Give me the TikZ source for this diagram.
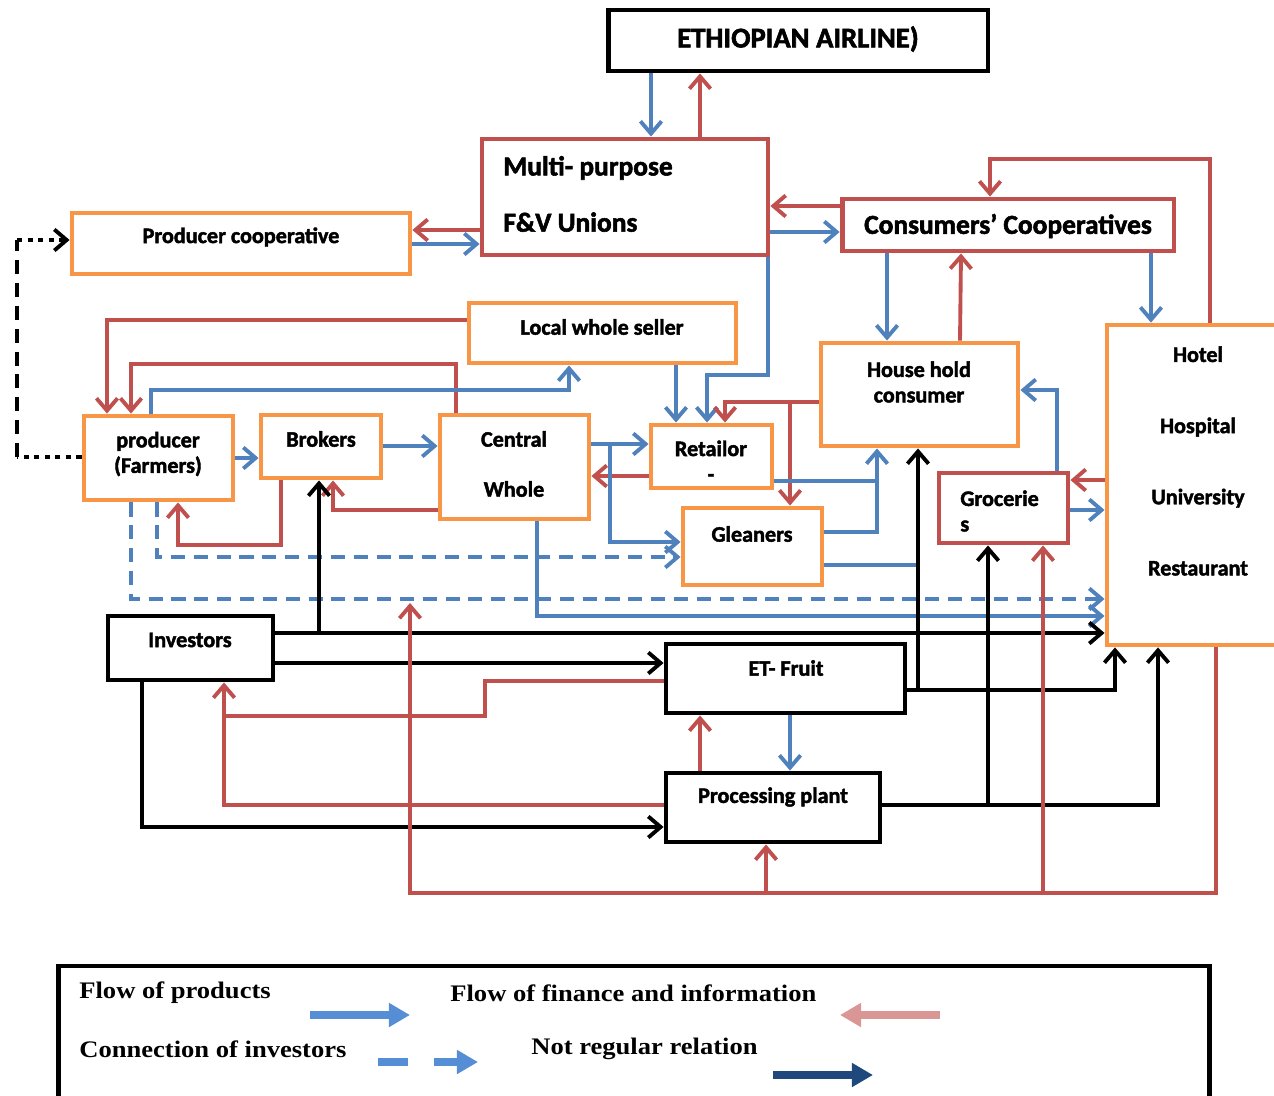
\documentclass[tikz,border=0pt]{standalone}
\usepackage{fontspec}
\setmainfont{Carlito}
\newfontfamily\heavyfont[BoldFeatures={FakeBold=2}]{Carlito}
\newfontfamily\legfont[BoldFeatures={FakeStretch=1.12}]{Liberation Serif}
\usetikzlibrary{arrows.meta,positioning}

\definecolor{prodblue}{HTML}{4F81BD}
\definecolor{finred}{HTML}{C0504D}
\definecolor{actorange}{HTML}{F79646}
\definecolor{legblue}{HTML}{558ED5}
\definecolor{legpink}{HTML}{D99694}
\definecolor{legnavy}{HTML}{1F497D}

\begin{document}
\begin{tikzpicture}[x=0.02cm, y=-0.02cm, >={Straight Barb[length=7pt,width=12pt]},
  actor/.style={draw=actorange, line width=2.8pt},
  coop/.style={draw=finred, line width=2.8pt},
  firm/.style={draw=black, line width=2.8pt},
  prod/.style={prodblue, line width=2.2pt},
  fin/.style={finred, line width=2.2pt},
  invl/.style={black, line width=2.2pt},
  prodd/.style={prod, dash pattern=on 8pt off 5pt},
  lbl/.style={font=\heavyfont\bfseries\fontsize{12.6}{14.5}\selectfont, align=center},
  biglbl/.style={font=\heavyfont\bfseries\fontsize{16.3}{18}\selectfont, align=center},
  legtxt/.style={font=\legfont\bfseries\fontsize{13.5}{15}\selectfont, anchor=west, inner sep=0pt},
  legarrow/.style={line width=4.5pt, -{Triangle[length=12pt,width=13pt]}}]
\useasboundingbox (0,0) rectangle (1274,1095);

% boxes
\node[firm, minimum width=7.6cm, minimum height=1.22cm] (airline) at (798,40.5) {};
\node[coop, minimum width=5.72cm, minimum height=2.32cm] (unions) at (625,197) {};
\node[actor, minimum width=6.76cm, minimum height=1.22cm] (pcoop) at (241,243.5) {};
\node[coop, minimum width=6.64cm, minimum height=1.04cm] (ccoop) at (1008,225) {};
\node[actor, minimum width=5.34cm, minimum height=1.2cm] (lws) at (602.5,333) {};
\node[actor, minimum width=2.98cm, minimum height=1.68cm] (farmers) at (158.5,458) {};
\node[actor, minimum width=2.4cm, minimum height=1.26cm] (brokers) at (321,446.5) {};
\node[actor, minimum width=2.98cm, minimum height=2.08cm] (central) at (514.5,467) {};
\node[actor, minimum width=2.42cm, minimum height=1.26cm] (retail) at (711.5,456.5) {};
\node[actor, minimum width=2.78cm, minimum height=1.54cm] (gleaners) at (752.5,546.5) {};
\node[actor, minimum width=3.94cm, minimum height=2.06cm] (house) at (919.5,394.5) {};
\node[coop, minimum width=2.58cm, minimum height=1.4cm] (groc) at (1003.5,508) {};
\node[actor, minimum width=3.66cm, minimum height=6.4cm] (hotel) at (1198.5,485) {};
\node[firm, minimum width=3.3cm, minimum height=1.28cm] (investors) at (190.5,648) {};
\node[firm, minimum width=4.78cm, minimum height=1.38cm] (etfruit) at (785.5,678.5) {};
\node[firm, minimum width=4.28cm, minimum height=1.38cm] (plant) at (773,807.5) {};

% texts
\node[biglbl] (airline-t) at (798,39) {ETHIOPIAN AIRLINE)};
\node[biglbl, font=\heavyfont\bfseries\fontsize{15.6}{17}\selectfont, align=left, anchor=west, inner sep=0pt] (unions-t) at (503,194) {Multi- purpose\\[15pt]F\&V Unions};
\node[lbl] (pcoop-t) at (241,237) {Producer cooperative};
\node[biglbl, font=\heavyfont\bfseries\fontsize{15.6}{17}\selectfont] (ccoop-t) at (1008,226) {Consumers’ Cooperatives};
\node[lbl] (lws-t) at (602,327) {Local whole seller};
\node[lbl] (farmers-t) at (158,454) {producer\\(Farmers)};
\node[lbl] (brokers-t) at (321,439) {Brokers};
\node[lbl] (central-t) at (514,464) {Central\\[14pt]Whole};
\node[lbl] (retail-t) at (711,461) {Retailor\\-};
\node[lbl] (gleaners-t) at (752,534) {Gleaners};
\node[lbl] (house-t) at (919,382) {House hold\\consumer};
\node[lbl, align=left, anchor=west, inner sep=0pt] (groc-t) at (960,511) {Grocerie\\s};
\node[lbl] (hotel-t) at (1198,461) {Hotel\\[26pt]Hospital\\[26pt]University\\[26pt]Restaurant};
\node[lbl] (investors-t) at (190,640) {Investors};
\node[lbl] (etfruit-t) at (786,668) {ET- Fruit};
\node[lbl] (plant-t) at (773,797) {Processing plant};

% top part
\draw[prod,->] (airline.south -| 651,0) -- (unions.north -| 651,0);
\draw[fin,->] (unions.north -| 700,0) -- (airline.south -| 700,0);
\draw[fin,->] (unions.west |- 0,230) -- (pcoop.east |- 0,230);
\draw[prod,->] (pcoop.east |- 0,244) -- (unions.west |- 0,244);
\draw[fin,->] (ccoop.west |- 0,206) -- (unions.east |- 0,206);
\draw[prod,->] (unions.east |- 0,232) -- (ccoop.west |- 0,232);
\draw[prod,->] (unions.south -| 768,0) -- (768,375) -- (707,375) -- (retail.north -| 707,0);
\draw[fin,->] (hotel.north -| 1210,0) -- (1210,159) -- (990,159) -- (ccoop.north -| 990,0);
\draw[prod,->] (ccoop.south -| 887,0) -- (house.north -| 887,0);
\draw[fin,->] (house.north -| 960,0) -- (ccoop.south -| 961,0);
\draw[prod,->] (ccoop.south -| 1151,0) -- (hotel.north -| 1151,0);

% not regular relation
\coordinate (nr1) at (17,457);
\coordinate (nr2) at (17,240);
\draw[black, line width=2.2pt, dash pattern=on 3pt off 3pt] (farmers.west |- nr1) -- (nr1);
\draw[black, line width=2.2pt, dash pattern=on 8pt off 5pt] (nr1) -- (nr2);
\draw[black, line width=2.2pt, dash pattern=on 3pt off 3pt, ->] (nr2) -- (pcoop.west |- nr2);

% producers and traders
\draw[fin,->] (lws.west |- 0,320) -- (107,320) -- (farmers.north -| 107,0);
\draw[fin,->] (central.north -| 456,0) -- (456,364) -- (131,364) -- (farmers.north -| 131,0);
\draw[prod,->] (farmers.north -| 151,0) -- (151,390) -- (569,390) -- (lws.south -| 569,0);
\draw[prod,->] (farmers.east |- 0,458) -- (brokers.west |- 0,458);
\draw[prod,->] (brokers.east |- 0,446) -- (central.west |- 0,446);
\draw[fin,->] (brokers.south -| 281,0) -- (281,545) -- (178,545) -- (farmers.south -| 178,0);
\draw[fin,->] (central.west |- 0,510) -- (333,510) -- (brokers.south -| 333,0);
\draw[prod,->] (central.east |- 0,444) -- (retail.west |- 0,444);
\draw[fin,->] (retail.west |- 0,476) -- (central.east |- 0,476);
\draw[prod,->] (610,444) -- (610,542) -- (gleaners.west |- 0,542);
\draw[prodd,->] (farmers.south -| 157,0) -- (157,557) -- (gleaners.west |- 0,557);
\draw[prodd,->] (farmers.south -| 131,0) -- (131,599) -- (hotel.west |- 0,599);
\draw[prod,->] (central.south -| 537,0) -- (537,616) -- (hotel.west |- 0,616);
\draw[prod,->] (lws.south -| 676,0) -- (retail.north -| 676,0);
\draw[fin,->] (house.west |- 0,402) -- (725,402) -- (retail.north -| 725,0);
\draw[fin,->] (790,402) -- (gleaners.north -| 790,0);
\draw[prod,->] (retail.east |- 0,481) -- (877,481) -- (house.south -| 877,0);
\draw[prod] (gleaners.east |- 0,532) -- (877,532) -- (877,481);
\draw[prod] (gleaners.east |- 0,565) -- (917,565);
\draw[prod,->] (groc.north -| 1057,0) -- (1057,390) -- (house.east |- 0,390);
\draw[fin,->] (hotel.west |- 0,480) -- (groc.east |- 0,480);
\draw[prod,->] (groc.east |- 0,510) -- (hotel.west |- 0,510);

% investors
\draw[invl,->] (investors.east |- 0,633) -- (hotel.west |- 0,633);
\draw[invl,->] (319,633) -- (brokers.south -| 319,0);
\draw[invl,->] (investors.east |- 0,663) -- (etfruit.west |- 0,663);
\draw[invl,->] (investors.south -| 142,0) -- (142,827) -- (plant.west |- 0,827);
\draw[invl,->] (etfruit.east |- 0,690) -- (1115,690) -- (hotel.south -| 1115,0);
\draw[invl,->] (918,690) -- (house.south -| 918,0);
\draw[invl,->] (plant.east |- 0,805) -- (1158,805) -- (hotel.south -| 1158,0);
\draw[invl,->] (988,805) -- (groc.south -| 988,0);
\draw[fin] (etfruit.west |- 0,681) -- (485,681) -- (485,716) -- (224,716);
\draw[fin,->] (plant.west |- 0,805) -- (224,805) -- (investors.south -| 224,0);
\draw[fin,->] (plant.north -| 700,0) -- (etfruit.south -| 700,0);
\draw[prod,->] (etfruit.south -| 790,0) -- (plant.north -| 790,0);

% bottom loop
\coordinate (loose) at (410,603);
\draw[fin,->] (hotel.south -| 1216,0) -- (1216,893) -- (410,893) -- (loose);
\draw[fin,->] (766,893) -- (plant.south -| 766,0);
\draw[fin,->] (1043,893) -- (groc.south -| 1043,0);

% legend
\node[firm, minimum width=23.04cm, minimum height=2.72cm] (legend) at (634,1034) {};
\node[legtxt] (leg-prod) at (79,993) {Flow of products};
\node[legtxt] (leg-fin) at (450,993) {Flow of finance and information};
\node[legtxt] (leg-inv) at (79,1049) {Connection of investors};
\node[legtxt] (leg-nr) at (531,1049) {Not regular relation};
\draw[legarrow, legblue] (310,1015) -- (410,1015);
\draw[legarrow, legpink] (940,1015) -- (840,1015);
\draw[legarrow, legblue, dash pattern=on 17pt off 15pt] (378,1062) -- (478,1062);
\draw[legarrow, legnavy] (773,1075) -- (873,1075);

\end{tikzpicture}
\end{document}
